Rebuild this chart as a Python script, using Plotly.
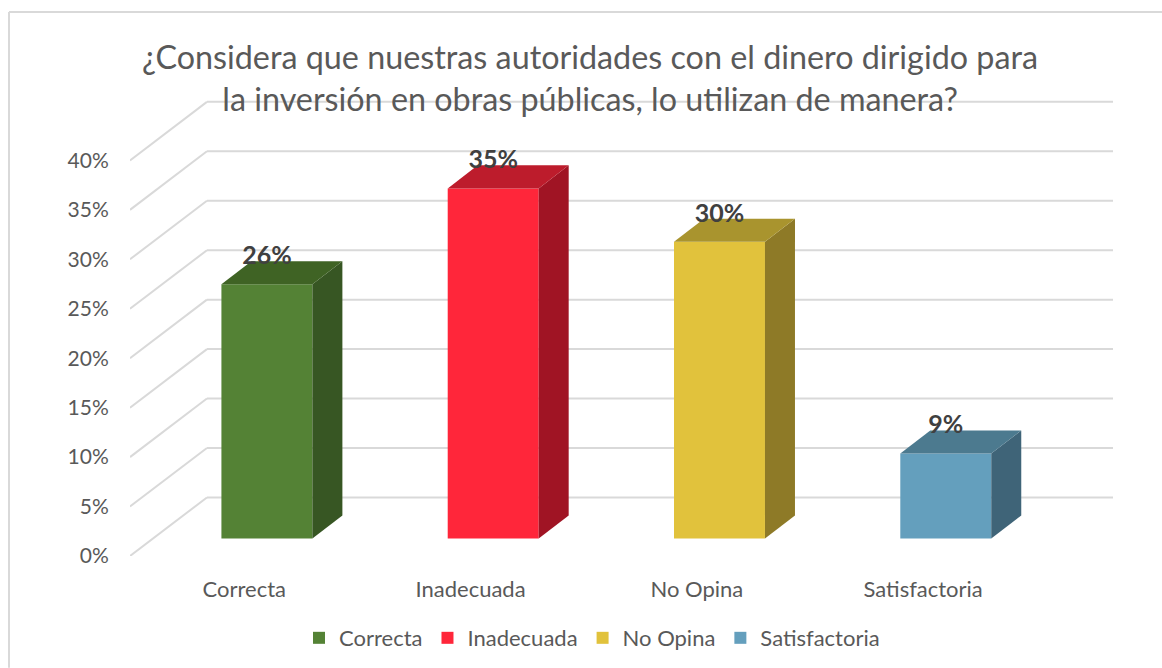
import plotly.graph_objects as go

categories = ["Correcta", "Inadecuada", "No Opina", "Satisfactoria"]
values = [25.7, 35.4, 30.0, 8.6]
value_labels = ["26%", "35%", "30%", "9%"]
y_ticks = [0, 5, 10, 15, 20, 25, 30, 35, 40]
y_tick_labels = ["0%", "5%", "10%", "15%", "20%", "25%", "30%", "35%", "40%"]

front_colors = ["#548235", "#FF263A", "#E1C23C", "#649FBD"]
side_colors = ["#375623", "#A01424", "#8E7A27", "#3F6478"]
top_colors = ["#3F6324", "#BD1C2C", "#A9942E", "#4C7A8F"]

title = ("¿Considera que nuestras autoridades con el dinero dirigido para<br>"
         "la inversión en obras públicas, lo utilizan de manera?")

# fake 3d: everything in axis units, 226.3 px per category and 9.89 px per %
bar_width = 0.402
bar_floor = 1.77
bar_dx = 0.1326
bar_dy = 2.33
wall_dx = 0.34
wall_dy = 5.92
x_left, x_right = -0.605, 3.739
label_gap = 2.65
grid_color = "#D9D9D9"
text_color = "#595959"
font = "Lato"

fig = go.Figure()

for i, cat in enumerate(categories):
    fig.add_trace(go.Bar(
        x=[i], y=[values[i]], base=bar_floor, width=bar_width, name=cat,
        marker=dict(color=front_colors[i], line=dict(width=0)), hoverinfo="skip",
    ))

for i, val in enumerate(values):
    left = i - bar_width / 2
    right = i + bar_width / 2
    top = bar_floor + val
    # side face
    fig.add_trace(go.Scatter(
        x=[right, right + bar_dx, right + bar_dx, right, right],
        y=[bar_floor, bar_floor + bar_dy, top + bar_dy, top, bar_floor],
        mode="lines", fill="toself", fillcolor=side_colors[i],
        line=dict(width=0), showlegend=False, hoverinfo="skip",
    ))
    # top face
    fig.add_trace(go.Scatter(
        x=[left, left + bar_dx, right + bar_dx, right, left],
        y=[top, top + bar_dy, top + bar_dy, top, top],
        mode="lines", fill="toself", fillcolor=top_colors[i],
        line=dict(width=0), showlegend=False, hoverinfo="skip",
    ))

fig.add_trace(go.Scatter(
    x=list(range(len(categories))),
    y=[bar_floor + v + label_gap for v in values],
    mode="text", text=value_labels, textposition="middle center",
    textfont=dict(family=font, size=25, color="#404040", weight="bold"),
    showlegend=False, hoverinfo="skip",
))

# the gridlines run along the side wall and then the back wall
shapes = []
for t in y_ticks:
    shapes.append(dict(type="line", xref="x", yref="y", layer="below",
                       x0=x_left, y0=t, x1=x_left + wall_dx, y1=t + wall_dy,
                       line=dict(color=grid_color, width=2)))
    shapes.append(dict(type="line", xref="x", yref="y", layer="below",
                       x0=x_left + wall_dx, y0=t + wall_dy, x1=x_right, y1=t + wall_dy,
                       line=dict(color=grid_color, width=2)))
# chart frame, only top and left are in the picture
shapes.append(dict(type="line", xref="paper", yref="paper", x0=-0.1231, y0=1.1674, x1=-0.1231, y1=-0.24,
                   line=dict(color=grid_color, width=2)))
shapes.append(dict(type="line", xref="paper", yref="paper", x0=-0.1231, y0=1.1674, x1=1.05, y1=1.1674,
                   line=dict(color=grid_color, width=2)))

fig.update_layout(
    width=1162, height=668,
    margin=dict(l=130, r=49, t=90, b=112, autoexpand=False),
    paper_bgcolor="white", plot_bgcolor="rgba(0,0,0,0)",
    barmode="overlay", shapes=shapes,
    font=dict(family=font, color=text_color),
    title=dict(text=title, x=0.5078, xanchor="center", y=0.8965, yanchor="middle",
               font=dict(family=font, size=32.3, color=text_color)),
    legend=dict(orientation="h", x=0.47, xanchor="center", y=-0.176, yanchor="middle",
                font=dict(family=font, size=22, color=text_color), itemwidth=30,
                traceorder="normal"),
    xaxis=dict(range=[x_left, x_right], tickmode="array",
               tickvals=[i - 0.1 for i in range(len(categories))], ticktext=categories,
               showgrid=False, zeroline=False, showline=False,
               ticks="outside", ticklen=14, tickcolor="rgba(0,0,0,0)",
               tickfont=dict(family=font, size=22, color=text_color)),
    yaxis=dict(range=[0, 47.12], tickmode="array", tickvals=y_ticks, ticktext=y_tick_labels,
               showgrid=False, zeroline=False, showline=False,
               ticks="outside", ticklen=16, tickcolor="rgba(0,0,0,0)",
               tickfont=dict(family=font, size=21, color=text_color)),
)

# the page body has a default margin that would push the chart 8 px off
fig.write_html("out.html", config=dict(displayModeBar=False),
               post_script="document.body.style.margin='0';")
